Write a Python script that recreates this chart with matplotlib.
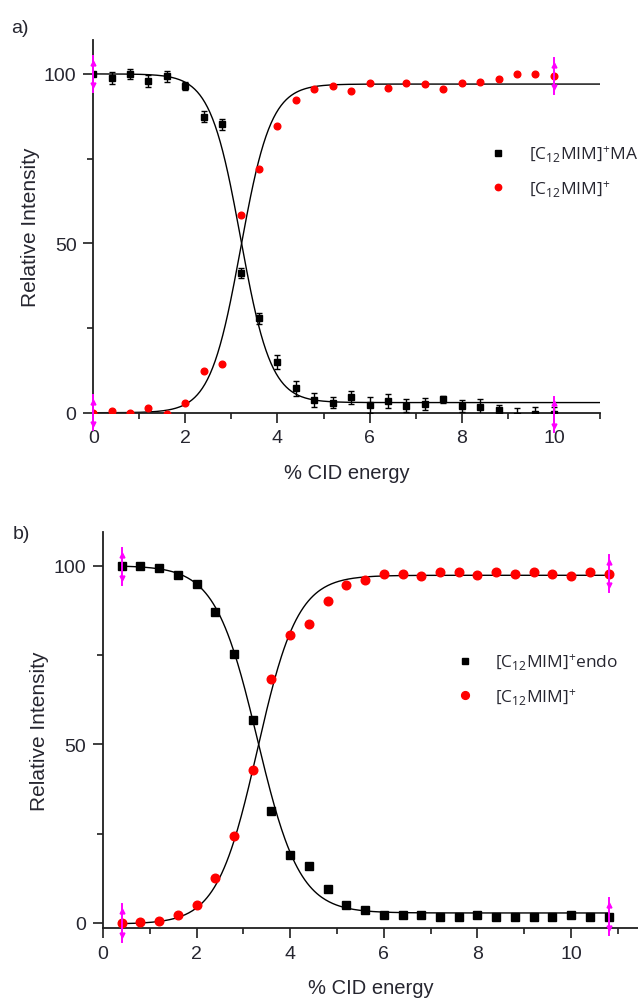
import numpy as np
import matplotlib
matplotlib.use("Agg")
import matplotlib.pyplot as plt
from matplotlib.ticker import MultipleLocator
from matplotlib.lines import Line2D

plt.rcParams['font.family'] = ['Liberation Sans', 'DejaVu Sans']
plt.rcParams['mathtext.default'] = 'regular'

# ---- panel a: [C12MIM]+MA dissociation ----
a_energy = [0.0, 0.4, 0.8, 1.2, 1.6, 2.0, 2.4, 2.8, 3.2, 3.6, 4.0, 4.4, 4.8,
            5.2, 5.6, 6.0, 6.4, 6.8, 7.2, 7.6, 8.0, 8.4, 8.8, 9.2, 9.6, 10.0]
a_adduct = [100, 98.9, 99.9, 97.9, 99.3, 96.5, 87.4, 85.1, 41.3, 27.9, 15.0, 7.2, 3.8,
            3.0, 4.5, 2.3, 3.5, 2.1, 2.6, 4.0, 2.1, 1.6, 0.8, -1.0, -0.5, -0.5]
a_adduct_err = [0, 1.8, 1.5, 1.8, 1.6, 1.2, 1.6, 1.6, 1.4, 1.6, 2.0, 2.3, 2.0,
                1.5, 2.0, 2.4, 2.0, 2.0, 1.8, 1.0, 1.8, 2.4, 1.5, 2.3, 2.3, 2.1]
a_cation = [0, 0.4, 0, 1.4, -0.3, 2.9, 12.4, 14.3, 58.4, 72.0, 84.6, 92.3, 95.4,
            96.4, 95.0, 97.4, 95.9, 97.4, 96.9, 95.6, 97.4, 97.6, 98.6, 99.9, 100.0, 99.4]
# Boltzmann fit parameters (A1, A2, x0, dx)
a_fit_adduct = (100.0, 3.0, 3.2, 0.33)
a_fit_cation = (0.0, 97.0, 3.2, 0.33)
a_labels = [r'[C$_{12}$MIM]$^{+}$MA', r'[C$_{12}$MIM]$^{+}$']

# ---- panel b: [C12MIM]+endo dissociation ----
b_energy = [0.4, 0.8, 1.2, 1.6, 2.0, 2.4, 2.8, 3.2, 3.6, 4.0, 4.4, 4.8, 5.2, 5.6,
            6.0, 6.4, 6.8, 7.2, 7.6, 8.0, 8.4, 8.8, 9.2, 9.6, 10.0, 10.4, 10.8]
b_adduct = [99.8, 99.8, 99.4, 97.4, 94.8, 87.1, 75.3, 56.8, 31.3, 19.0, 15.9, 9.5, 5.0, 3.5,
            2.2, 2.2, 2.2, 1.8, 1.8, 2.2, 1.8, 1.8, 1.8, 1.8, 2.2, 1.8, 1.8]
b_cation = [0.0, 0.2, 0.6, 2.3, 5.0, 12.6, 24.4, 42.9, 68.3, 80.6, 83.6, 90.1, 94.7, 96.1,
            97.6, 97.6, 97.1, 98.2, 98.2, 97.5, 98.2, 97.6, 98.2, 97.7, 97.1, 98.2, 97.8]
b_fit_adduct = (100.0, 2.8, 3.3, 0.45)
b_fit_cation = (-0.3, 97.3, 3.3, 0.43)
b_labels = [r'[C$_{12}$MIM]$^{+}$endo', r'[C$_{12}$MIM]$^{+}$']

x_label = '% CID energy'
y_label = 'Relative Intensity'

INK = '#1f1f1f'
TXT = '#262630'
RED = '#ff0000'
MAG = '#ff00ff'


def boltzmann(x, p):
    a1, a2, x0, dx = p
    return a2 + (a1 - a2) / (1.0 + np.exp((x - x0) / dx))


def style_axes(ax, xmax, ymin, ymax):
    for s in ('top', 'right'):
        ax.spines[s].set_visible(False)
    for s in ('left', 'bottom'):
        ax.spines[s].set_linewidth(1.3)
        ax.spines[s].set_color(INK)
    ax.set_xlim(0, xmax)
    ax.set_ylim(ymin, ymax)
    ax.xaxis.set_major_locator(MultipleLocator(2))
    ax.xaxis.set_minor_locator(MultipleLocator(1))
    ax.yaxis.set_major_locator(MultipleLocator(50))
    ax.yaxis.set_minor_locator(MultipleLocator(25))
    ax.tick_params(which='major', direction='out', length=7, width=1.2,
                   color=INK, labelsize=14, labelcolor=TXT, pad=5)
    ax.tick_params(which='minor', direction='out', length=4.5, width=1.2, color=INK)
    ax.set_xlabel(x_label, fontsize=14.5, color=TXT, labelpad=12)
    ax.set_ylabel(y_label, fontsize=15, color=TXT, labelpad=3)


def end_markers(ax, x, ys):
    # draggable-style end markers on the first and last points of each series
    for xi, yi in ((x[0], ys[0]), (x[-1], ys[-1])):
        ax.plot([xi, xi], [yi - 5.2, yi + 5.2], color=MAG, lw=1.4, clip_on=False, zorder=6)
        ax.plot([xi], [yi + 3.3], marker='^', ms=3.5, color=MAG, clip_on=False, zorder=6)
        ax.plot([xi], [yi - 3.3], marker='v', ms=3.5, color=MAG, clip_on=False, zorder=6)


def add_legend(ax, labels, anchor, ms):
    handles = [Line2D([], [], marker='s', ls='none', color='black', ms=ms),
               Line2D([], [], marker='o', ls='none', color=RED, mec=RED, ms=ms + 0.6)]
    leg = ax.legend(handles, labels, loc='center left', bbox_to_anchor=anchor,
                    frameon=False, handlelength=1.0, handletextpad=1.25,
                    labelspacing=0.85, borderpad=0, borderaxespad=0,
                    prop={'family': 'Open Sans', 'size': 12.5})
    for t in leg.get_texts():
        t.set_color(TXT)


fig = plt.figure(figsize=(6.38, 10.03), dpi=100)

# panel a
ax_a = fig.add_axes([0.1461, 0.5875, 0.7943, 0.3716])
style_axes(ax_a, 11, 0, 110)
xf = np.linspace(0, 11, 400)
ax_a.plot(xf, boltzmann(xf, a_fit_adduct), color='black', lw=1.0, zorder=2)
ax_a.plot(xf, boltzmann(xf, a_fit_cation), color='black', lw=1.0, zorder=2)
ax_a.errorbar(a_energy, a_adduct, yerr=a_adduct_err, fmt='s', ms=4.2, color='black',
              ecolor='black', elinewidth=1.0, capsize=2.5, capthick=1.0, zorder=3)
ax_a.plot(a_energy, a_cation, 'o', ms=4.8, color=RED, mec=RED, ls='none', zorder=3)
end_markers(ax_a, a_energy, a_adduct)
end_markers(ax_a, a_energy, a_cation)
add_legend(ax_a, a_labels, (0.782, 0.649), 4)
fig.text(0.018, 0.972, 'a)', fontsize=14, color=TXT, va='center')

# panel b
ax_b = fig.add_axes([0.1613, 0.0738, 0.8387, 0.3951])
style_axes(ax_b, 11.43, -1.4, 109.5)
xf = np.linspace(b_energy[0], b_energy[-1], 400)
ax_b.plot(xf, boltzmann(xf, b_fit_adduct), color='black', lw=1.0, zorder=2)
ax_b.plot(xf, boltzmann(xf, b_fit_cation), color='black', lw=1.0, zorder=2)
ax_b.plot(b_energy, b_adduct, 's', ms=6.2, color='black', ls='none', zorder=3)
ax_b.plot(b_energy, b_cation, 'o', ms=6.2, color=RED, mec=RED, ls='none', zorder=3)
end_markers(ax_b, b_energy, b_adduct)
end_markers(ax_b, b_energy, b_cation)
add_legend(ax_b, b_labels, (0.660, 0.629), 5)
fig.text(0.020, 0.467, 'b)', fontsize=14, color=TXT, va='center')

fig.savefig('out.png', dpi=100)
